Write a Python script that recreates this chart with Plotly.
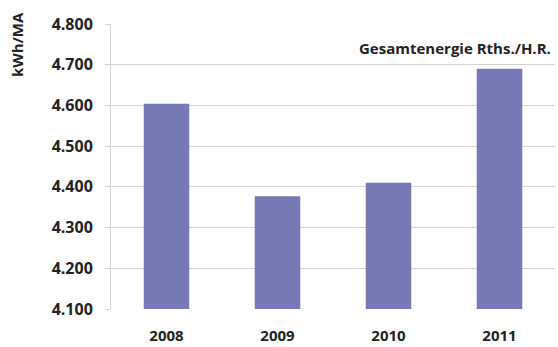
import plotly.graph_objects as go

years = ["2008", "2009", "2010", "2011"]
values = [4604, 4377, 4410, 4690]
y_ticks = [4100, 4200, 4300, 4400, 4500, 4600, 4700, 4800]

W, H = 558, 347
L, R, T, B = 111, 3, 24, 38
pw, ph = W - L - R, H - T - B

def px_x(p):
    return (p - L) / pw

def px_y(p):
    return (H - B - p) / ph

fig = go.Figure(go.Bar(
    x=years, y=values,
    marker=dict(color="#7679B3", line=dict(width=0)),
    width=0.41,
))

font_fam = "Open Sans, Lato, sans-serif"

fig.update_layout(
    width=W, height=H,
    margin=dict(l=L, r=R, t=T, b=B),
    paper_bgcolor="white", plot_bgcolor="white",
    separators=",.",
    showlegend=False,
    font=dict(family=font_fam, color="#222222"),
    xaxis=dict(
        showgrid=False, showline=False, zeroline=False,
        tickfont=dict(size=15, weight="bold", color="#222222"),
        ticklabelstandoff=16,
    ),
    yaxis=dict(
        range=[4100, 4800], tickvals=y_ticks, tickformat=",d",
        showgrid=True, gridcolor="#d4d4d4", gridwidth=1,
        showline=True, linecolor="#d4d4d4", linewidth=1,
        ticks="outside", ticklen=5, tickcolor="#d4d4d4",
        zeroline=False,
        tickfont=dict(size=16, weight="bold", color="#222222"),
        ticklabelstandoff=9,
    ),
    annotations=[
        dict(text="kWh/MA", xref="paper", yref="paper",
             x=px_x(17), y=px_y(45), xanchor="center", yanchor="middle",
             textangle=-90, showarrow=False,
             font=dict(size=15, weight="bold", color="#222222")),
        dict(text="Gesamtenergie Rths./H.R.", xref="paper", yref="paper",
             x=px_x(553), y=px_y(48), xanchor="right", yanchor="middle",
             showarrow=False,
             font=dict(size=15, weight="bold", color="#222222")),
    ],
)

fig.write_html("out.html")
